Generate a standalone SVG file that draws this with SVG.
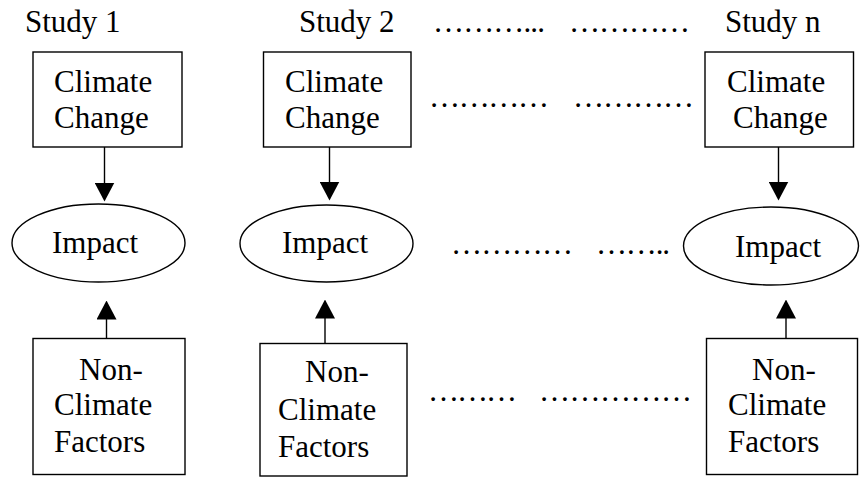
<svg xmlns="http://www.w3.org/2000/svg" width="860" height="477" viewBox="0 0 860 477">
<defs>
<style>
.box{fill:#fff;stroke:#000;stroke-width:1.4}
.ell{fill:#fff;stroke:#000;stroke-width:1.4}
.t{font-family:'Liberation Serif','DejaVu Serif',serif;font-size:31px;fill:#000}
.dots{font-family:'Liberation Serif','DejaVu Serif',serif;font-size:31px;fill:#000}
.conn{stroke:#000;stroke-width:1.4;fill:none;marker-end:url(#ah)}
</style>
<marker id="ah" markerUnits="userSpaceOnUse" markerWidth="19" markerHeight="20" viewBox="0 0 19 20" refX="14" refY="10" orient="auto">
<path d="M0,0 L19,10 L0,20 Z" fill="#000"/>
</marker>
</defs>
<rect width="860" height="477" fill="#fff"/>

<g id="labels">
<text class="t" x="25" y="32">Study 1</text>
<text class="t" x="299" y="32">Study 2</text>
<text class="t" x="725" y="32">Study n</text>
</g>

<g id="dotted-leaders">
<text class="dots" x="433" y="31.5" textLength="112" lengthAdjust="spacing">………...</text>
<text class="dots" x="569" y="31.5" textLength="121" lengthAdjust="spacing">…………</text>
<text class="dots" x="429" y="106.5" textLength="120" lengthAdjust="spacing">…………</text>
<text class="dots" x="573" y="106.5" textLength="121" lengthAdjust="spacing">…………</text>
<text class="dots" x="451" y="253.5" textLength="122" lengthAdjust="spacing">…………</text>
<text class="dots" x="596" y="253.5" textLength="74" lengthAdjust="spacing">……..</text>
<text class="dots" x="428" y="400.5" textLength="89" lengthAdjust="spacing">………</text>
<text class="dots" x="539" y="400.5" textLength="153" lengthAdjust="spacing">……………</text>
</g>

<g id="cc1">
<rect class="box" x="33" y="52" width="149" height="95"/>
<text class="t" x="54" y="92">Climate</text>
<text class="t" x="54" y="128">Change</text>
</g>
<g id="cc2">
<rect class="box" x="263.5" y="52" width="147.5" height="95"/>
<text class="t" x="285" y="92">Climate</text>
<text class="t" x="285" y="128">Change</text>
</g>
<g id="ccn">
<rect class="box" x="705" y="52" width="148.5" height="95"/>
<text class="t" x="727" y="92">Climate</text>
<text class="t" x="733" y="128">Change</text>
</g>

<g id="imp1">
<ellipse class="ell" cx="98.5" cy="243" rx="86.5" ry="39"/>
<text class="t" x="52" y="253">Impact</text>
</g>
<g id="imp2">
<ellipse class="ell" cx="326.5" cy="243.5" rx="86.5" ry="38.5"/>
<text class="t" x="282" y="253">Impact</text>
</g>
<g id="impn">
<ellipse class="ell" cx="771" cy="246" rx="87.5" ry="39"/>
<text class="t" x="735" y="256.5">Impact</text>
</g>

<g id="nc1">
<rect class="box" x="33" y="338.5" width="152" height="136"/>
<text class="t" x="79" y="380">Non-</text>
<text class="t" x="54" y="415">Climate</text>
<text class="t" x="54" y="451.5">Factors</text>
</g>
<g id="nc2">
<rect class="box" x="260" y="343.5" width="147" height="132.5"/>
<text class="t" x="305" y="381.5">Non-</text>
<text class="t" x="278" y="420">Climate</text>
<text class="t" x="278" y="456.5">Factors</text>
</g>
<g id="ncn">
<rect class="box" x="706.5" y="338.5" width="151" height="136"/>
<text class="t" x="752" y="380">Non-</text>
<text class="t" x="728" y="415">Climate</text>
<text class="t" x="728" y="451.5">Factors</text>
</g>

<g id="connectors">
<line class="conn" x1="104.5" y1="147" x2="104.5" y2="196.5"/>
<line class="conn" x1="329.5" y1="147" x2="329.5" y2="195.5"/>
<line class="conn" x1="778.5" y1="147" x2="778.5" y2="195.5"/>
<line class="conn" x1="106.5" y1="338.5" x2="106.5" y2="305.5"/>
<line class="conn" x1="325" y1="343.5" x2="325" y2="304.5"/>
<line class="conn" x1="786" y1="338.5" x2="786" y2="304.5"/>
</g>
</svg>
